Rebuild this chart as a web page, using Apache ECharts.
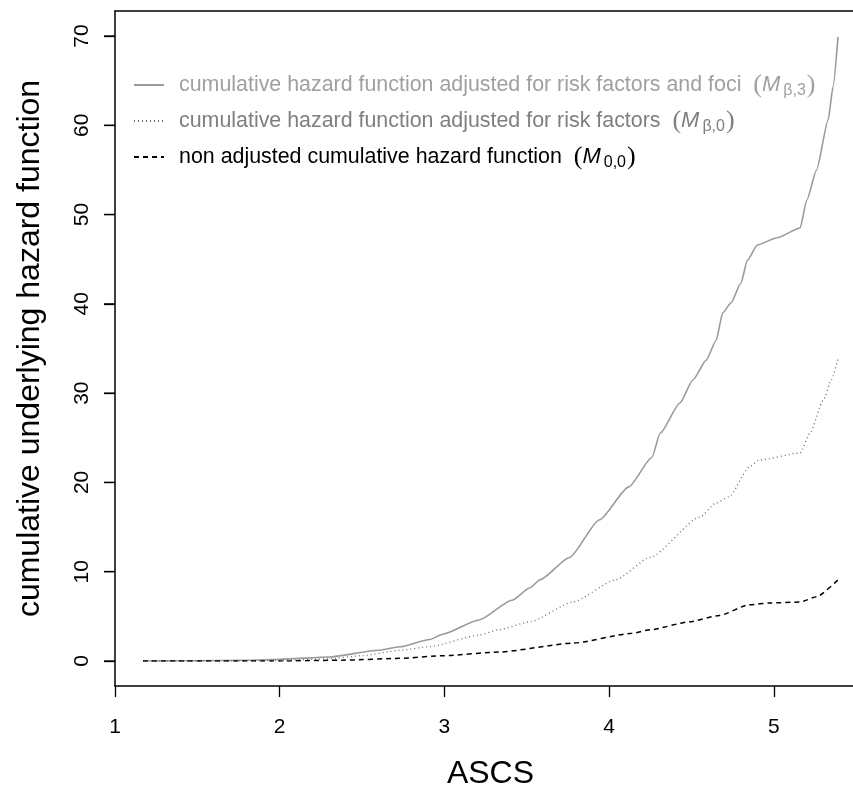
<html lang="en">
<head>
    <meta charset="UTF-8">
    <script src="https://cdn.jsdelivr.net/npm/echarts@6/dist/echarts.min.js"></script>
    <title>cumulative hazard</title>
</head>
<body style="margin:0">

<div id="main" style="width: 853px;height:789px;"></div>

<script>
  // ASCS values and cumulative hazard
  var ascsFoci = [1.17, 1.5, 1.8, 2.0, 2.3, 2.6, 2.73, 2.91, 2.99, 3.21, 3.41, 3.52, 3.58, 3.76, 3.94, 4.12, 4.26, 4.31, 4.43, 4.51, 4.59, 4.65, 4.69, 4.74, 4.80, 4.84, 4.90, 5.02, 5.16, 5.20, 5.26, 5.33, 5.36, 5.39];
  var hazFoci = [0, 0.02, 0.08, 0.2, 0.45, 1.2, 1.6, 2.4, 3.0, 4.6, 6.8, 8.2, 9.1, 11.6, 15.8, 19.5, 22.8, 25.5, 28.9, 31.5, 33.7, 35.9, 39.0, 40.1, 42.3, 44.9, 46.6, 47.4, 48.5, 51.6, 55.0, 60.6, 64.3, 69.9];

  var ascsRisk = [1.17, 1.8, 2.0, 2.3, 2.5, 2.73, 2.91, 3.21, 3.33, 3.52, 3.78, 4.04, 4.25, 4.55, 4.65, 4.73, 4.85, 4.91, 5.16, 5.22, 5.30, 5.35, 5.39];
  var hazRisk = [0, 0, 0.05, 0.25, 0.6, 1.2, 1.6, 2.9, 3.5, 4.4, 6.6, 9.1, 11.6, 16.1, 17.7, 18.4, 21.7, 22.5, 23.3, 25.5, 29.2, 31.5, 33.9];

  var ascsNone = [1.17, 2.0, 2.4, 2.73, 3.0, 3.33, 3.78, 4.14, 4.25, 4.49, 4.67, 4.85, 4.98, 5.16, 5.26, 5.39];
  var hazNone = [0, 0, 0.1, 0.3, 0.6, 1.0, 2.0, 3.1, 3.5, 4.4, 5.1, 6.3, 6.5, 6.6, 7.2, 9.1];

  var yTicks = [0, 10, 20, 30, 40, 50, 60, 70];

  var nameFoci = 'cumulative hazard function adjusted for risk factors and foci';
  var nameRisk = 'cumulative hazard function adjusted for risk factors';
  var nameNone = 'non adjusted cumulative hazard function';
  var subs = {};
  subs[nameFoci] = 'β,3';
  subs[nameRisk] = 'β,0';
  subs[nameNone] = '0,0';

  function pairs(xs, ys) {
    return xs.map(function (x, i) { return [x, ys[i]]; });
  }

  var font = "'Liberation Sans', Arial, sans-serif";
  var myChart = echarts.init(document.getElementById('main'));

  // grid 0 = the R box (xlim/ylim padded by 4%), grid 1 = 0..70 for labels, ticks and curves
  var option = {
      backgroundColor: '#fff',
      animation: false,
      textStyle: { fontFamily: font },
      grid: [{
          left: 115, right: -13, top: 11, bottom: 103,
          outerBoundsMode: 'none', containLabel: false
      }, {
          left: 115, right: -13, top: 36, bottom: 128,
          outerBoundsMode: 'none', containLabel: false
      }],
      legend: {
          orient: 'vertical',
          left: 133, top: 70,
          padding: 0,
          itemWidth: 30, itemHeight: 14, itemGap: 6,
          selectedMode: false,
          itemStyle: { opacity: 0 },
          data: [
              { name: nameFoci, textStyle: { color: '#a0a0a0' } },
              { name: nameRisk, textStyle: { color: '#7f7f7f' } },
              { name: nameNone, textStyle: { color: '#000' } }
          ],
          formatter: function (name) {
              return name + '  {p|(}{m|M}{s|' + subs[name] + '}{p|)}';
          },
          textStyle: {
              fontSize: 21.4, fontFamily: font, lineHeight: 30,
              padding: [0, 0, 0, 10],
              rich: {
                  p: { fontSize: 26, fontFamily: "'Liberation Serif', serif", lineHeight: 30 },
                  m: { fontSize: 22, fontStyle: 'italic', fontFamily: font, lineHeight: 30 },
                  s: { fontSize: 16, fontFamily: font, lineHeight: 30, verticalAlign: 'bottom', padding: [0, 1, 1, 3] }
              }
          }
      },
      xAxis: [{
          gridIndex: 0,
          type: 'value',
          position: 'bottom',
          min: 1, max: 5.56, interval: 1,
          name: 'ASCS', nameLocation: 'middle', nameGap: 72,
          nameTextStyle: { fontSize: 32, color: '#000', fontFamily: font },
          axisLine: { show: true, onZero: false, lineStyle: { color: '#000', width: 1.5 } },
          axisTick: { show: true, inside: false, length: 11, lineStyle: { color: '#000', width: 1.3 } },
          axisLabel: { fontSize: 21, color: '#000', margin: 31,
                       formatter: function (v) { return v <= 5 ? String(v) : ''; } },
          splitLine: { show: false }
      }, {
          gridIndex: 0,
          type: 'value',
          position: 'top',
          min: 1, max: 5.56,
          axisLine: { show: true, onZero: false, lineStyle: { color: '#000', width: 1.5 } },
          axisTick: { show: false }, axisLabel: { show: false }, splitLine: { show: false }
      }, {
          gridIndex: 1,
          type: 'value',
          min: 1, max: 5.56,
          axisLine: { show: false }, axisTick: { show: false },
          axisLabel: { show: false }, splitLine: { show: false }
      }],
      yAxis: [{
          gridIndex: 0,
          type: 'value',
          min: -2.8, max: 72.8,
          name: 'cumulative underlying hazard function', nameLocation: 'middle', nameGap: 69,
          nameTextStyle: { fontSize: 32, color: '#000', fontFamily: font },
          axisLine: { show: true, onZero: false, lineStyle: { color: '#000', width: 1.5 } },
          axisTick: { show: false }, axisLabel: { show: false }, splitLine: { show: false }
      }, {
          gridIndex: 1,
          type: 'value',
          min: 0, max: 70, interval: 10,
          axisLine: { show: false, onZero: false },
          axisTick: { show: true, length: 11, lineStyle: { color: '#000', width: 1.3 } },
          axisLabel: { fontSize: 21, color: '#000', margin: 22, rotate: 90 },
          splitLine: { show: false }
      }],
      series: [{
          name: nameFoci,
          type: 'line',
          xAxisIndex: 2, yAxisIndex: 1,
          symbol: 'none',
          smooth: 0.2, smoothMonotone: 'x',
          lineStyle: { color: '#9a9a9a', width: 1.6, type: 'solid' },
          itemStyle: { color: '#9a9a9a' },
          data: pairs(ascsFoci, hazFoci)
      }, {
          name: nameRisk,
          type: 'line',
          xAxisIndex: 2, yAxisIndex: 1,
          symbol: 'none',
          smooth: 0.2, smoothMonotone: 'x',
          lineStyle: { color: '#6a6a6a', width: 1.3, type: [1, 3] },
          itemStyle: { color: '#6a6a6a' },
          data: pairs(ascsRisk, hazRisk)
      }, {
          name: nameNone,
          type: 'line',
          xAxisIndex: 2, yAxisIndex: 1,
          symbol: 'none',
          smooth: 0.2, smoothMonotone: 'x',
          lineStyle: { color: '#000', width: 1.5, type: [5, 4] },
          itemStyle: { color: '#000' },
          data: pairs(ascsNone, hazNone)
      }, {
          // y-axis tick marks, placed through the axis scale
          type: 'custom',
          xAxisIndex: 2, yAxisIndex: 1,
          clip: false, silent: true, z: 10,
          data: yTicks.map(function (v) { return [1, v]; }),
          renderItem: function (params, api) {
              var p = api.coord([1, api.value(1)]);
              return {
                  type: 'line',
                  shape: { x1: p[0] - 11, y1: p[1], x2: p[0], y2: p[1] },
                  style: { stroke: '#000', lineWidth: 1.3 }
              };
          }
      }]
  };

  myChart.setOption(option);
</script>

</body>
</html>
